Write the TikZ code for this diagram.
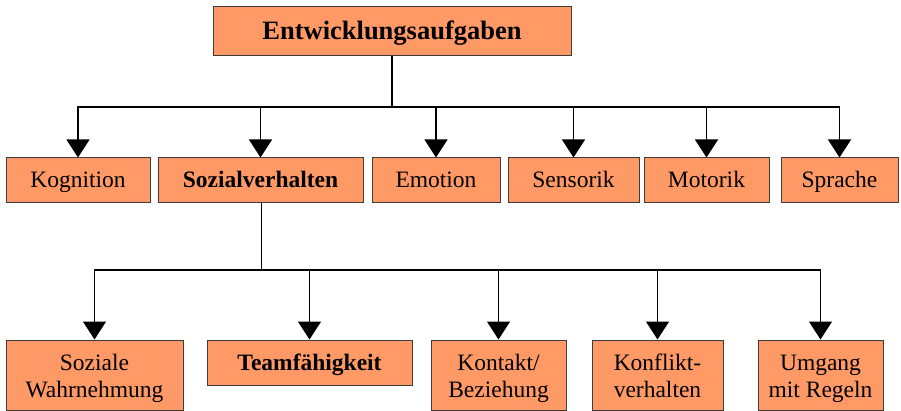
\documentclass[tikz,border=0pt]{standalone}
\usepackage{fontspec}
\setmainfont{Liberation Serif}
\usetikzlibrary{arrows.meta}
\definecolor{boxfill}{RGB}{255,153,102}
\definecolor{boxline}{RGB}{60,60,60}
\begin{document}
\begin{tikzpicture}[x=1pt,y=-1pt,
  box/.style={draw=boxline,line width=1pt,fill=boxfill,inner sep=0pt,align=center,
    font=\fontsize{23.5}{27}\selectfont},
  one/.style={box,text height=18pt,text depth=3pt},
  two/.style={box,minimum height=70pt,text height=44pt,text depth=0pt},
  conn/.style={line width=1.3pt,black},
  arr/.style={conn,-{Triangle[width=23pt,length=18pt]}}]
\useasboundingbox (0,0) rectangle (901,411);
% top
\node[one,minimum width=358pt,minimum height=49pt,text height=19pt,font=\fontsize{26.5}{30}\selectfont\bfseries] (top) at (392,31.5) {Entwicklungsaufgaben};
% row 2
\node[one,minimum width=144pt,minimum height=45pt] (kog) at (78,180.5) {Kognition};
\node[one,minimum width=205pt,minimum height=45pt,font=\fontsize{23.5}{27}\selectfont\bfseries] (soz) at (260.5,180.5) {Sozialverhalten};
\node[one,minimum width=128pt,minimum height=45pt] (emo) at (436,180.5) {Emotion};
\node[one,minimum width=131pt,minimum height=45pt] (sen) at (573.5,180.5) {Sensorik};
\node[one,minimum width=125pt,minimum height=45pt] (mot) at (706.5,180.5) {Motorik};
\node[one,minimum width=117pt,minimum height=45pt] (spr) at (839.5,180.5) {Sprache};
% row 3
\node[two,minimum width=177pt] (wahr) at (94.5,375) {Soziale\\Wahrnehmung};
\node[one,minimum width=205pt,minimum height=45pt,font=\fontsize{23.5}{27}\selectfont\bfseries] (team) at (309.5,362.5) {Teamfähigkeit};
\node[two,minimum width=135pt] (kon) at (498.5,375) {Kontakt/\\Beziehung};
\node[two,minimum width=131pt] (konf) at (657.5,375) {Konflikt-\\verhalten};
\node[two,minimum width=125pt] (umg) at (820.5,375) {Umgang\\mit Regeln};
% connectors
\coordinate (j1) at (392,107);
\coordinate (j2) at (261.5,270);
\draw[conn] (top.south) -- (j1);
\foreach \c in {kog,soz,emo,sen,mot,spr} \draw[arr] (j1) -| (\c.north);
\draw[conn] (soz.south -| j2) -- (j2);
\foreach \c in {wahr,team,kon,konf,umg} \draw[arr] (j2) -| (\c.north);
\end{tikzpicture}
\end{document}
